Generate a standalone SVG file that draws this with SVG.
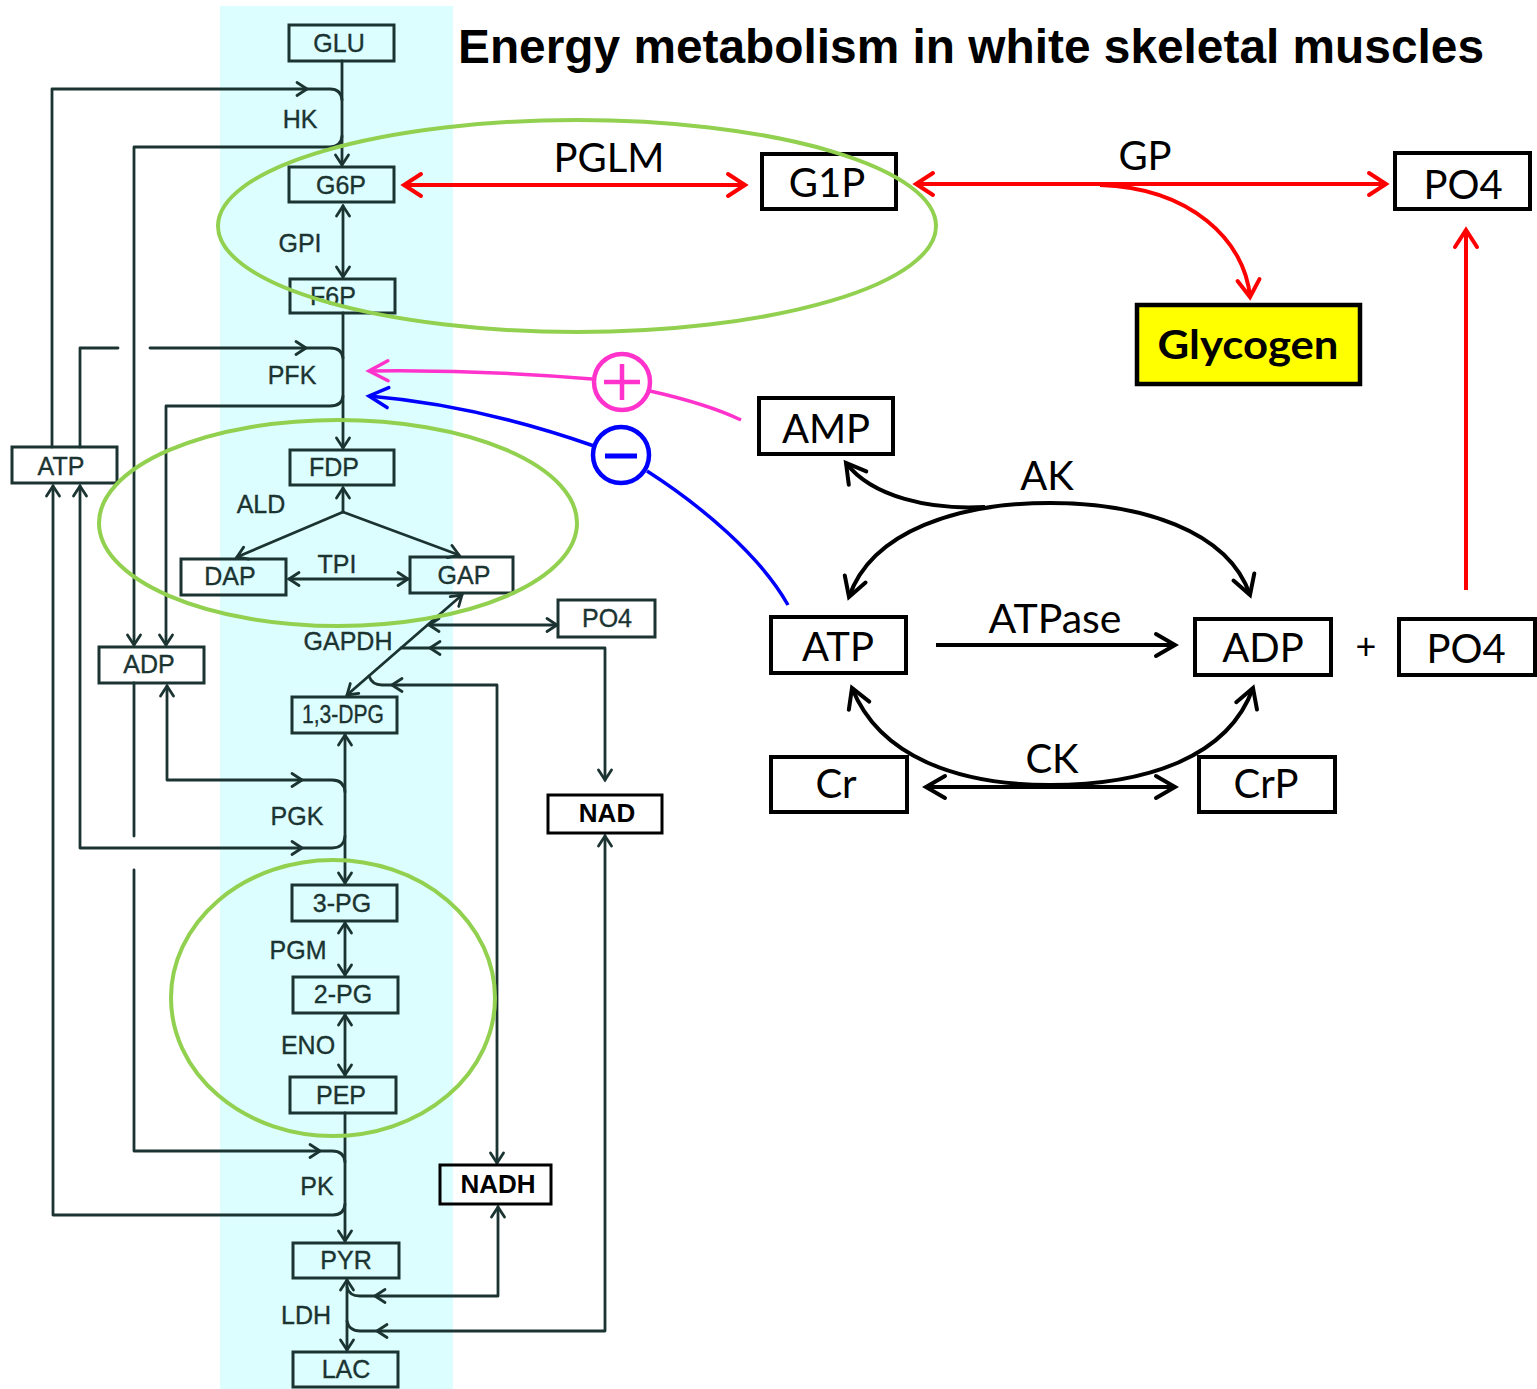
<svg xmlns="http://www.w3.org/2000/svg" width="1537" height="1389" viewBox="0 0 1537 1389">
<defs>
<style>
.bg{fill:#DDFEFE}
.lb{fill:none;stroke:#1b3432;stroke-width:3}
.lt{font-family:"Liberation Sans",Arial,sans-serif;font-size:25px;fill:#1b3432;stroke:#1b3432;stroke-width:0.35;text-anchor:middle}
.ltb{font-family:"Liberation Sans",Arial,sans-serif;font-size:26px;font-weight:bold;fill:#000;text-anchor:middle}
.ll{fill:none;stroke:#1b3432;stroke-width:2.8;stroke-linecap:round;stroke-linejoin:round}
.rb{fill:#fff;stroke:#000;stroke-width:4}
.rt{font-family:Lato,"Open Sans",sans-serif;font-size:40px;fill:#000;text-anchor:middle}
.rl{fill:none;stroke:#000;stroke-width:4}
.red{fill:none;stroke:#FF0000;stroke-width:4}
.grn{fill:none;stroke:#92D050;stroke-width:4}
</style>
<marker id="mk" viewBox="-15 -15 30 30" refX="0" refY="0" markerWidth="30" markerHeight="30" markerUnits="userSpaceOnUse" orient="auto-start-reverse" overflow="visible">
<path d="M-10,-6.5 L0,0 L-10,6.5" fill="none" stroke="#1b3432" stroke-width="2.8" stroke-linecap="round"/>
</marker>
<marker id="mr" viewBox="-25 -15 30 30" refX="0" refY="0" markerWidth="30" markerHeight="30" markerUnits="userSpaceOnUse" orient="auto-start-reverse" overflow="visible">
<path d="M-17,-11 L0,0 L-17,11" fill="none" stroke="#FF0000" stroke-width="4" stroke-linecap="round"/>
</marker>
<marker id="mb" viewBox="-25 -15 30 30" refX="0" refY="0" markerWidth="30" markerHeight="30" markerUnits="userSpaceOnUse" orient="auto-start-reverse" overflow="visible">
<path d="M-19,-11 L0,0 L-19,11" fill="none" stroke="#000" stroke-width="4" stroke-linecap="round"/>
</marker>
<marker id="mp" viewBox="-25 -15 30 30" refX="0" refY="0" markerWidth="30" markerHeight="30" markerUnits="userSpaceOnUse" orient="auto" overflow="visible">
<path d="M-19,-10 L0,0 L-19,10" fill="none" stroke="#FF33CC" stroke-width="3.5" stroke-linecap="round"/>
</marker>
<marker id="mu" viewBox="-25 -15 30 30" refX="0" refY="0" markerWidth="30" markerHeight="30" markerUnits="userSpaceOnUse" orient="auto" overflow="visible">
<path d="M-19,-10 L0,0 L-19,10" fill="none" stroke="#0000FF" stroke-width="3.5" stroke-linecap="round"/>
</marker>
</defs>

<rect x="0" y="0" width="1537" height="1389" fill="#fff"/>
<rect class="bg" x="220" y="6" width="233" height="1383"/>

<text x="458" y="63" font-family="'Liberation Sans',Arial,sans-serif" font-size="48" font-weight="bold" textLength="1026" lengthAdjust="spacingAndGlyphs">Energy metabolism in white skeletal muscles</text>

<g id="connectors-left">
<path class="ll" d="M342,61 V165" marker-end="url(#mk)"/>
<path class="ll" d="M52,447 V89 H330 Q341,89 342,100"/>
<path class="ll" d="M297,82.5 L307,89 L297,95.5"/>
<path class="ll" d="M342,136 Q341,147 330,147 H134 V645" marker-end="url(#mk)"/>
<path class="ll" d="M343,206 V277" marker-start="url(#mk)" marker-end="url(#mk)"/>
<path class="ll" d="M343,313 V448" marker-end="url(#mk)"/>
<path class="ll" d="M80,447 V348 H118"/>
<path class="ll" d="M150,348 H330 Q342,348 343,358"/>
<path class="ll" d="M296,341.5 L306,348 L296,354.5"/>
<path class="ll" d="M343,396 Q342,406 330,406 H166 V645" marker-end="url(#mk)"/>
<path class="ll" d="M343,512 V488" marker-end="url(#mk)"/>
<path class="ll" d="M343,512 L237,557" marker-end="url(#mk)"/>
<path class="ll" d="M343,512 L459,555" marker-end="url(#mk)"/>
<path class="ll" d="M289,579 H408" marker-start="url(#mk)" marker-end="url(#mk)"/>
<path class="ll" d="M462,595 L347,695" marker-start="url(#mk)" marker-end="url(#mk)"/>
<path class="ll" d="M429,625 H557" marker-start="url(#mk)" marker-end="url(#mk)"/>
<path class="ll" d="M401,648 H605 V780" marker-end="url(#mk)"/>
<path class="ll" d="M440,641.5 L430,648 L440,654.5"/>
<path class="ll" d="M369,676 Q372,685 382,685 H497 V1163" marker-end="url(#mk)"/>
<path class="ll" d="M402,678.5 L392,685 L402,691.5"/>
<path class="ll" d="M345,735 V883" marker-start="url(#mk)" marker-end="url(#mk)"/>
<path class="ll" d="M167,686 V780 H332 Q344,780 345,792" marker-start="url(#mk)"/>
<path class="ll" d="M292,773.5 L302,780 L292,786.5"/>
<path class="ll" d="M80,486 V848 H332 Q344,848 345,836" marker-start="url(#mk)"/>
<path class="ll" d="M292,841.5 L302,848 L292,854.5"/>
<path class="ll" d="M134,683 V836"/>
<path class="ll" d="M134,870 V1151 H332 Q344,1151 345,1162"/>
<path class="ll" d="M310,1144.5 L320,1151 L310,1157.5"/>
<path class="ll" d="M345,923 V975" marker-start="url(#mk)" marker-end="url(#mk)"/>
<path class="ll" d="M345,1015 V1075" marker-start="url(#mk)" marker-end="url(#mk)"/>
<path class="ll" d="M345,1113 V1241" marker-end="url(#mk)"/>
<path class="ll" d="M345,1204 Q344,1215 333,1215 H53 V486" marker-end="url(#mk)"/>
<path class="ll" d="M347,1280 V1350" marker-start="url(#mk)" marker-end="url(#mk)"/>
<path class="ll" d="M347,1287 Q349,1296 360,1296 H498 V1207" marker-end="url(#mk)"/>
<path class="ll" d="M385,1289.5 L375,1296 L385,1302.5"/>
<path class="ll" d="M347,1321 Q349,1331 360,1331 H605 V836" marker-end="url(#mk)"/>
<path class="ll" d="M387,1324.5 L377,1331 L387,1337.5"/>
</g>

<g id="n-GLU"><rect class="lb" x="289" y="25" width="105" height="36"/><text class="lt" x="339" y="52">GLU</text></g>
<text class="lt" x="300" y="128">HK</text>
<g id="n-G6P"><rect class="lb" x="289" y="167" width="105" height="35"/><text class="lt" x="341" y="194">G6P</text></g>
<text class="lt" x="300" y="252">GPI</text>
<g id="n-F6P"><rect class="lb" x="290" y="279" width="105" height="34"/><text class="lt" x="333" y="305">F6P</text></g>
<text class="lt" x="292" y="384">PFK</text>
<g id="n-ATP-l"><rect class="lb" x="12" y="447" width="105" height="36"/><text class="lt" x="61" y="475">ATP</text></g>
<g id="n-FDP"><rect class="lb" x="290" y="450" width="104" height="35"/><text class="lt" x="334" y="476">FDP</text></g>
<text class="lt" x="261" y="513">ALD</text>
<g id="n-DAP"><rect class="lb" x="181" y="559" width="105" height="36"/><text class="lt" x="230" y="585">DAP</text></g>
<text class="lt" x="337" y="573">TPI</text>
<g id="n-GAP"><rect class="lb" x="410" y="557" width="103" height="36"/><text class="lt" x="464" y="584">GAP</text></g>
<text class="lt" x="348" y="650">GAPDH</text>
<g id="n-PO4-l"><rect class="lb" x="558" y="600" width="97" height="37"/><text class="lt" x="607" y="627">PO4</text></g>
<g id="n-ADP-l"><rect class="lb" x="99" y="647" width="105" height="36"/><text class="lt" x="149" y="673">ADP</text></g>
<g id="n-DPG"><rect class="lb" x="292" y="697" width="105" height="36"/><text class="lt" x="343" y="723" textLength="82" lengthAdjust="spacingAndGlyphs">1,3-DPG</text></g>
<text class="lt" x="297" y="825">PGK</text>
<g id="n-NAD"><rect class="lb" x="548" y="795" width="114" height="38" style="stroke:#000;stroke-width:3"/><text class="ltb" x="607" y="822">NAD</text></g>
<g id="n-3PG"><rect class="lb" x="292" y="885" width="105" height="36"/><text class="lt" x="342" y="912">3-PG</text></g>
<text class="lt" x="298" y="959">PGM</text>
<g id="n-2PG"><rect class="lb" x="293" y="977" width="105" height="36"/><text class="lt" x="343" y="1003">2-PG</text></g>
<text class="lt" x="308" y="1054">ENO</text>
<g id="n-PEP"><rect class="lb" x="290" y="1077" width="106" height="36"/><text class="lt" x="341" y="1104">PEP</text></g>
<text class="lt" x="317" y="1195">PK</text>
<g id="n-NADH"><rect class="lb" x="440" y="1165" width="111" height="39" style="stroke:#000;stroke-width:3"/><text class="ltb" x="498" y="1193">NADH</text></g>
<g id="n-PYR"><rect class="lb" x="293" y="1243" width="106" height="35"/><text class="lt" x="346" y="1269">PYR</text></g>
<text class="lt" x="306" y="1324">LDH</text>
<g id="n-LAC"><rect class="lb" x="293" y="1352" width="105" height="35"/><text class="lt" x="346" y="1378">LAC</text></g>

<g id="connectors-right">
<path class="rl" d="M936,645 H1175" marker-end="url(#mb)"/>
<path class="rl" d="M849,597 C872,530 960,503 1050,503 C1140,503 1228,530 1250,595" marker-start="url(#mb)" marker-end="url(#mb)"/>
<path class="rl" d="M985,507 C930,510 872,497 846,463" marker-end="url(#mb)"/>
<path class="rl" d="M852,688 C880,758 960,785 1050,785 C1145,785 1228,758 1253,688" marker-start="url(#mb)" marker-end="url(#mb)"/>
<path class="rl" d="M926,787 H1175" marker-start="url(#mb)" marker-end="url(#mb)"/>
</g>

<g id="n-G1P"><rect class="rb" x="762" y="154" width="134" height="55"/><text class="rt" x="827" y="197">G1P</text></g>
<g id="n-PO4-top"><rect class="rb" x="1395" y="153" width="135" height="56"/><text class="rt" x="1463" y="199">PO4</text></g>
<g id="n-Glycogen"><rect x="1137" y="305" width="223" height="79" fill="#FFFF00" stroke="#000" stroke-width="4.5"/><text class="rt" x="1248" y="359" font-weight="bold" textLength="181" lengthAdjust="spacingAndGlyphs">Glycogen</text></g>
<g id="n-AMP"><rect class="rb" x="759" y="398" width="134" height="56"/><text class="rt" x="826" y="443">AMP</text></g>
<g id="n-ATP-r"><rect class="rb" x="771" y="617" width="135" height="56"/><text class="rt" x="838" y="661">ATP</text></g>
<g id="n-ADP-r"><rect class="rb" x="1195" y="619" width="136" height="56"/><text class="rt" x="1263" y="662">ADP</text></g>
<text class="rt" x="1366" y="659" style="font-size:36px">+</text>
<g id="n-PO4-r"><rect class="rb" x="1399" y="619" width="136" height="56"/><text class="rt" x="1466" y="663">PO4</text></g>
<g id="n-Cr"><rect class="rb" x="771" y="757" width="136" height="55"/><text class="rt" x="836" y="798">Cr</text></g>
<g id="n-CrP"><rect class="rb" x="1199" y="757" width="136" height="55"/><text class="rt" x="1266" y="798">CrP</text></g>

<text class="rt" x="1047" y="490">AK</text>
<text class="rt" x="1055" y="633" textLength="133" lengthAdjust="spacingAndGlyphs">ATPase</text>
<text class="rt" x="1052" y="773">CK</text>
<text class="rt" x="609" y="172">PGLM</text>
<text class="rt" x="1145" y="170">GP</text>

<g id="ellipses">
<ellipse class="grn" cx="577" cy="226" rx="359" ry="106"/>
<ellipse class="grn" cx="338" cy="523" rx="239" ry="103"/>
<ellipse class="grn" cx="333" cy="998" rx="162" ry="138"/>
</g>

<g id="connectors-red">
<path class="red" d="M404,185 H745" marker-start="url(#mr)" marker-end="url(#mr)"/>
<path class="red" d="M916,184 H1386" marker-start="url(#mr)" marker-end="url(#mr)"/>
<path class="red" d="M1100,185 C1190,188 1245,240 1250,297" marker-end="url(#mr)"/>
<path class="red" d="M1466,590 V230" marker-end="url(#mr)"/>
</g>

<g id="regulation">
<path d="M592,379 C520,373 440,370 369,371" fill="none" stroke="#FF33CC" stroke-width="3.5" marker-end="url(#mp)"/>
<path d="M650,391 C690,400 718,409 741,420" fill="none" stroke="#FF33CC" stroke-width="3.5"/>
<g id="n-plus"><circle cx="622" cy="382" r="28" fill="#fff" stroke="#FF33CC" stroke-width="4.5"/><path d="M604,382 H640 M622,364 V400" stroke="#FF33CC" stroke-width="4.5"/></g>
<path d="M594,446 C520,420 440,402 369,396" fill="none" stroke="#0000FF" stroke-width="3.5" marker-end="url(#mu)"/>
<path d="M647,471 C700,505 760,555 788,605" fill="none" stroke="#0000FF" stroke-width="3.5"/>
<g id="n-minus"><circle cx="621" cy="455" r="28" fill="#fff" stroke="#0000FF" stroke-width="4.5"/><path d="M605,456 H637" stroke="#0000FF" stroke-width="5"/></g>
</g>
</svg>
